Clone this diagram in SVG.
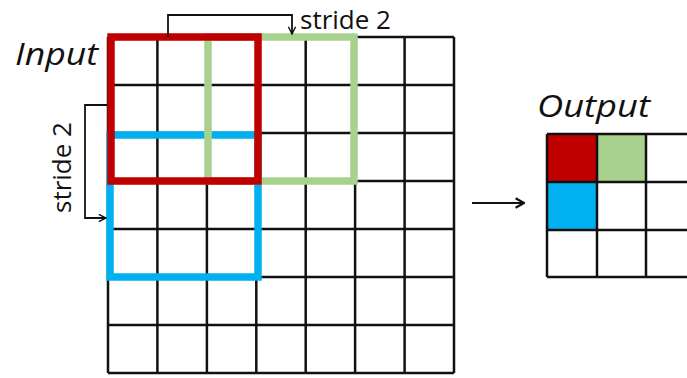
<svg xmlns="http://www.w3.org/2000/svg" width="687" height="378" viewBox="0 0 687 378">
  <style>
    .grid { fill: none; stroke: #111; stroke-width: 2.5; }
    .win { fill: none; stroke-width: 7.5; }
    .red { stroke: #C00000; }
    .green { stroke: #A9D18E; }
    .blue { stroke: #00B0F0; }
    .conn { fill: none; stroke: #111; stroke-width: 1.8; }
    .label { font-family: "Open Sans", "Liberation Sans", sans-serif; fill: #111; }
    .title { font-size: 31px; font-style: italic; }
    .small { font-size: 26px; }
  </style>
  <defs>
    <marker id="head" viewBox="0 0 10 10" refX="9" refY="5" markerWidth="9" markerHeight="9" markerUnits="userSpaceOnUse" orient="auto">
      <path d="M1,1 L9,5 L1,9" fill="none" stroke="#111" stroke-width="1.6"/>
    </marker>
    <marker id="head-big" viewBox="0 0 10 10" refX="9" refY="5" markerWidth="12" markerHeight="12" markerUnits="userSpaceOnUse" orient="auto">
      <path d="M2,1 L9,5 L2,9" fill="none" stroke="#111" stroke-width="1.8"/>
    </marker>
  </defs>
  <rect width="687" height="378" fill="#fff"/>

  <!-- 7x7 input feature map -->
  <g id="input">
    <path class="grid" d="M108,37V373 M157.4,37V373 M206.9,37V373 M256.3,37V373 M305.7,37V373 M355.1,37V373 M404.6,37V373 M454,37V373
                          M108,37H454 M108,85H454 M108,133H454 M108,181H454 M108,229H454 M108,277H454 M108,325H454 M108,373H454"/>
    <rect id="window-blue" class="win blue" x="110" y="135" width="148" height="142"/>
    <rect id="window-green" class="win green" x="208" y="37" width="146" height="144"/>
    <rect id="window-red" class="win red" x="111" y="37" width="147" height="144"/>
    <text class="label title" x="15" y="65" textLength="83" lengthAdjust="spacingAndGlyphs">Input</text>
  </g>

  <!-- output feature map -->
  <g id="output">
    <rect x="547" y="134" width="50" height="48" fill="#C00000"/>
    <rect x="597" y="134" width="49" height="48" fill="#A9D18E"/>
    <rect x="547" y="182" width="50" height="48" fill="#00B0F0"/>
    <path class="grid" d="M547,134V277 M597,134V277 M646,134V277 M695,134V277
                          M547,134H700 M547,182H700 M547,230H700 M547,277H700"/>
    <text class="label title" x="537" y="117" textLength="113" lengthAdjust="spacingAndGlyphs">Output</text>
  </g>

  <!-- stride labels -->
  <g id="stride-h">
    <text class="label small" x="300" y="29">stride 2</text>
  </g>
  <g id="stride-v">
    <text class="label small" transform="translate(71,213) rotate(-90)">stride 2</text>
  </g>

  <g id="connectors">
    <path class="conn" d="M168,37V15H292V34" marker-end="url(#head)"/>
    <path class="conn" d="M107,105H85V218H106" marker-end="url(#head)"/>
    <path class="conn" d="M472,203H524" stroke-width="2.2" marker-end="url(#head-big)"/>
  </g>
</svg>
